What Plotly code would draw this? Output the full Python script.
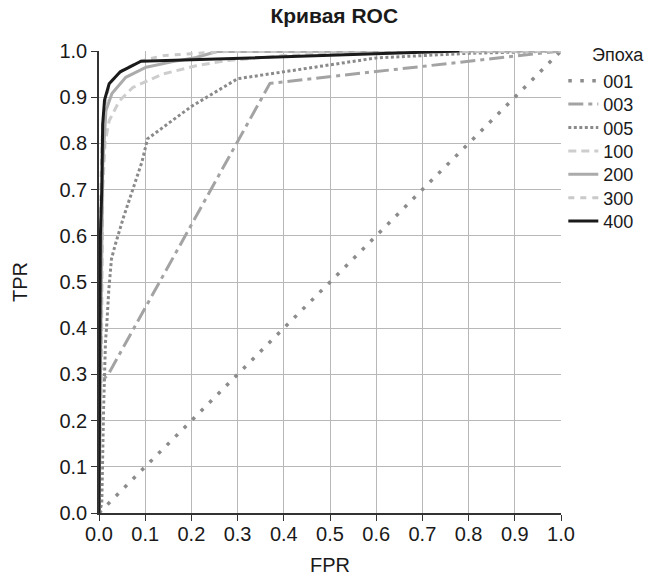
import plotly.graph_objects as go

# ---- data ----
fpr_001 = [0.0, 1.0]
tpr_001 = [0.0, 1.0]

fpr_003 = [0.0, 0.0, 0.02, 0.37, 1.0]
tpr_003 = [0.0, 0.28, 0.30, 0.93, 1.0]

fpr_005 = [0.0, 0.006, 0.01, 0.014, 0.017, 0.021, 0.027, 0.035, 0.053, 0.07, 0.08, 0.093, 0.105, 0.2, 0.3, 0.5, 0.6, 0.8, 1.0]
tpr_005 = [0.0, 0.02, 0.23, 0.37, 0.41, 0.48, 0.55, 0.58, 0.64, 0.69, 0.72, 0.76, 0.81, 0.88, 0.94, 0.97, 0.985, 0.995, 1.0]

fpr_100 = [0.0, 0.005, 0.008, 0.013, 0.022, 0.044, 0.073, 0.138, 0.21, 0.275, 0.4, 0.6, 1.0]
tpr_100 = [0.0, 0.3, 0.7, 0.8, 0.849, 0.892, 0.921, 0.95, 0.968, 0.979, 0.99, 0.997, 1.0]

fpr_200 = [0.0, 0.006, 0.008, 0.015, 0.028, 0.058, 0.102, 0.16, 0.21, 0.255, 1.0]
tpr_200 = [0.0, 0.5, 0.75, 0.871, 0.908, 0.943, 0.965, 0.977, 0.986, 0.999, 1.0]

fpr_300 = [0.0, 0.004, 0.008, 0.022, 0.05, 0.09, 0.138, 0.275, 1.0]
tpr_300 = [0.0, 0.7, 0.85, 0.93, 0.958, 0.978, 0.99, 0.999, 1.0]

fpr_400 = [0.0, 0.003, 0.006, 0.008, 0.012, 0.022, 0.046, 0.091, 0.327, 0.78]
tpr_400 = [0.0, 0.6, 0.70, 0.842, 0.894, 0.929, 0.955, 0.978, 0.985, 1.0]

epochs = ["001", "003", "005", "100", "200", "300", "400"]
legend_title = "Эпоха"
tick_vals = [0.0, 0.1, 0.2, 0.3, 0.4, 0.5, 0.6, 0.7, 0.8, 0.9, 1.0]
tick_text = ["0.0", "0.1", "0.2", "0.3", "0.4", "0.5", "0.6", "0.7", "0.8", "0.9", "1.0"]

series = [
    (fpr_001, tpr_001, "#8c8c8c", 3.5, "3.5px,8.5px"),
    (fpr_003, tpr_003, "#a3a3a3", 3, "15px,5px,4px,5px"),
    (fpr_005, tpr_005, "#8a8a8a", 3, "3px,2.5px"),
    (fpr_100, tpr_100, "#cdcdcd", 3, "8px,5px"),
    (fpr_200, tpr_200, "#ababab", 3, "solid"),
    (fpr_300, tpr_300, "#c9c9c9", 3, "6px,6px"),
    (fpr_400, tpr_400, "#1a1a1a", 3, "solid"),
]

FONT = "Liberation Sans, Arial, sans-serif"
TXT = "#1a1a1a"

# plot area geometry (px) used to place one legend per entry
PLOT_TOP, PLOT_H = 51, 462
FIRST_ITEM_PX, ITEM_STEP_PX = 81, 23.4

fig = go.Figure()
legend_layouts = {}
for i, (name, (x, y, color, w, dash)) in enumerate(zip(epochs, series)):
    key = "legend" if i == 0 else f"legend{i + 1}"
    fig.add_trace(go.Scatter(
        x=x, y=y, mode="lines", name=name, legend=key,
        line=dict(color=color, width=w, dash=dash),
    ))
    ypx = FIRST_ITEM_PX + i * ITEM_STEP_PX
    legend_layouts[key] = dict(
        x=1.005, xanchor="left",
        y=1 - (ypx - PLOT_TOP) / PLOT_H, yanchor="middle",
        font=dict(size=18, color=TXT, family=FONT),
        bgcolor="rgba(0,0,0,0)", itemwidth=30,
    )

axis_common = dict(
    range=[0, 1.0], tickvals=tick_vals, ticktext=tick_text,
    showgrid=True, gridcolor="#b8b8b8", gridwidth=1.3,
    showline=True, linecolor="#333333", linewidth=1.5,
    ticks="outside", ticklen=6, tickcolor="#333333", tickwidth=1.3,
    zeroline=False, tickfont=dict(size=20, color=TXT, family=FONT),
)

fig.update_layout(
    width=658, height=578,
    margin=dict(l=99, r=97, t=51, b=65, autoexpand=False),
    paper_bgcolor="white", plot_bgcolor="white",
    title=dict(text="<b>Кривая ROC</b>", x=0.508, xanchor="center", y=0.985, yanchor="top",
               font=dict(size=21, color=TXT, family=FONT)),
    xaxis=dict(**axis_common, ticklabelstandoff=-4,
               title=dict(text="FPR", font=dict(size=20, color=TXT, family=FONT), standoff=14)),
    yaxis=dict(**axis_common,
               title=dict(text="TPR", font=dict(size=20, color=TXT, family=FONT), standoff=26)),
    showlegend=True,
    annotations=[dict(
        text=legend_title, xref="paper", yref="paper", x=1.062, y=0.991,
        xanchor="left", yanchor="middle", showarrow=False,
        font=dict(size=18, color=TXT, family=FONT),
    )],
    **legend_layouts,
)

fig.write_html("out.html")
